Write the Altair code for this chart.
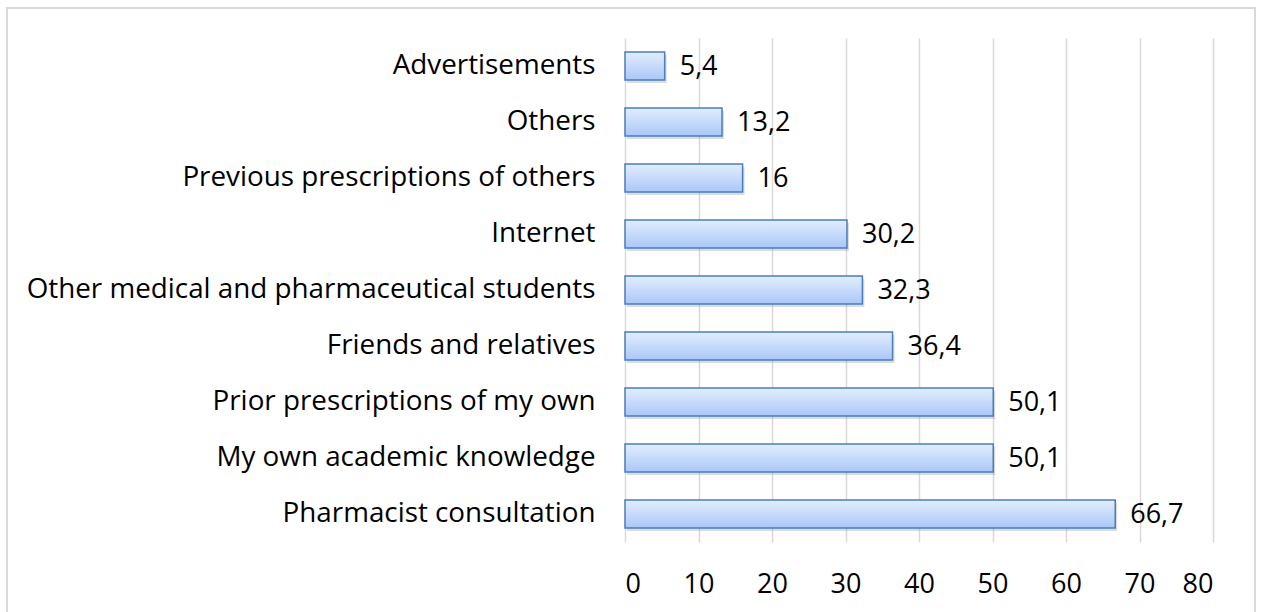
import altair as alt
import pandas as pd

categories = [
    "Advertisements",
    "Others",
    "Previous prescriptions of others",
    "Internet",
    "Other medical and pharmaceutical students",
    "Friends and relatives",
    "Prior prescriptions of my own",
    "My own academic knowledge",
    "Pharmacist consultation",
]
values = [5.4, 13.2, 16, 30.2, 32.3, 36.4, 50.1, 50.1, 66.7]
value_labels = ["5,4", "13,2", "16", "30,2", "32,3", "36,4", "50,1", "50,1", "66,7"]
x_ticks = [0, 10, 20, 30, 40, 50, 60, 70, 80]

df = pd.DataFrame({"cat": categories, "val": values, "lab": value_labels})

FONT = "Open Sans"
FS = 27
FS_Y = 27.8

y_scale = alt.Scale(paddingInner=0.5, paddingOuter=0.25)
y_enc = alt.Y("cat:N", sort=categories, title=None, scale=y_scale,
              axis=alt.Axis(labelFontSize=FS_Y, labelFont=FONT, labelColor="#000000",
                            labelPadding=30, ticks=False, domain=False, labelLimit=800))
x_enc = alt.X("val:Q", title=None,
              scale=alt.Scale(domain=[0, 80], nice=False),
              axis=alt.Axis(values=x_ticks, labelFontSize=FS, labelFont=FONT,
                            labelColor="#000000", labelPadding=29, ticks=False,
                            domain=False, grid=True, gridColor="#d9d9d9", gridWidth=1.5))

shadow = alt.Chart(df).mark_bar(
    color="#8c8c8c", opacity=0.3, xOffset=2, yOffset=3
).encode(x=alt.X("val:Q"), y=alt.Y("cat:N", sort=categories))

bars = alt.Chart(df).mark_bar(
    color=alt.Gradient(
        gradient="linear",
        stops=[alt.GradientStop(color="#e3edfd", offset=0),
               alt.GradientStop(color="#a9c8f7", offset=1)],
        x1=0, x2=0, y1=0, y2=1),
    stroke="#4a7ebb", strokeWidth=1.5,
).encode(x=x_enc, y=y_enc)

text = alt.Chart(df).mark_text(
    align="left", baseline="middle", dx=15, dy=1, fontSize=FS, font=FONT, color="#000000"
).encode(x="val:Q", y=alt.Y("cat:N", sort=categories), text="lab:N")

frame = alt.Chart(df).mark_rect(
    fill=None, stroke="#d9d9d9", strokeWidth=2
).encode(x=alt.value(-618), x2=alt.value(630), y=alt.value(-30), y2=alt.value(600))

chart = alt.layer(frame, shadow, bars, text).properties(
    width=588, height=504,
    autosize=alt.AutoSizeParams(type="none"),
    padding={"left": 625, "top": 38, "right": 48, "bottom": 70},
    background="#ffffff",
).configure_view(stroke=None)

chart.save("out.html", embed_options={"renderer": "svg", "actions": False})
